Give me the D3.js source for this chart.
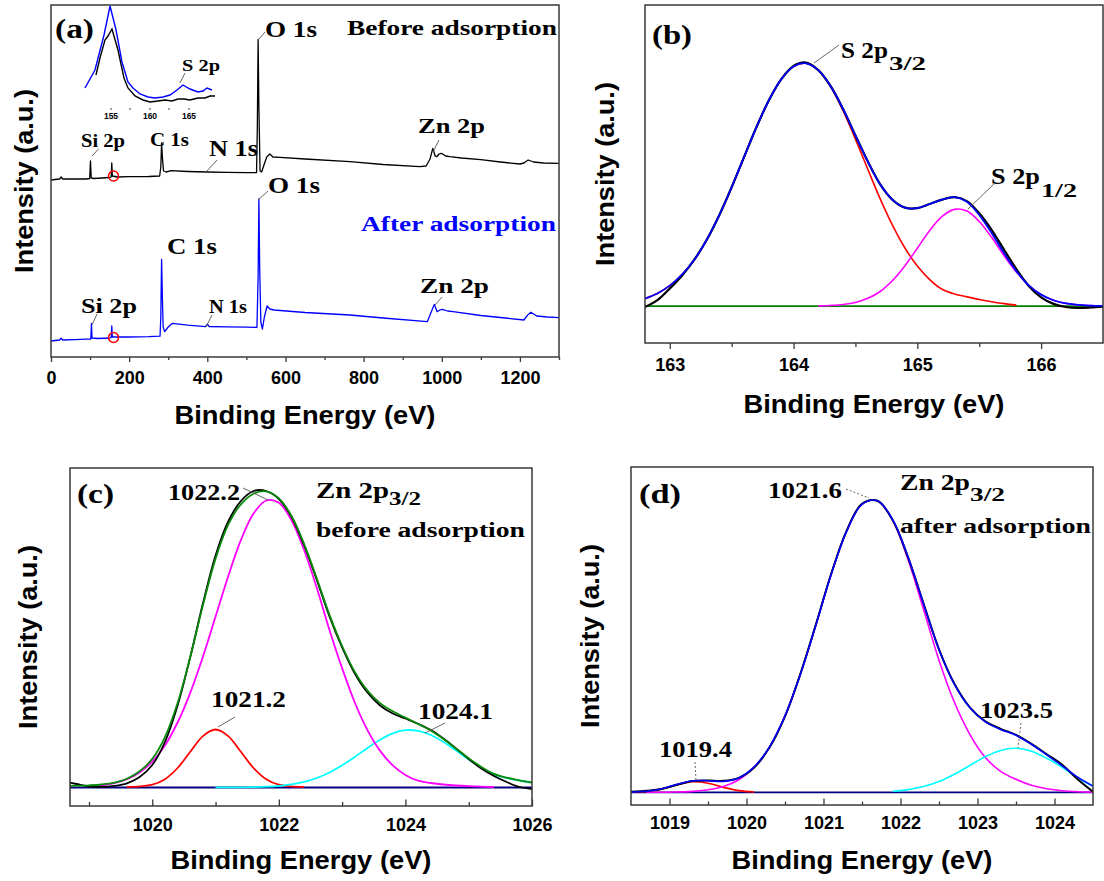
<!DOCTYPE html>
<html>
<head>
<meta charset="utf-8">
<script src="https://cdn.jsdelivr.net/npm/d3@7"></script>
<style>
  body { margin: 0; background: #fff; }
</style>
</head>
<body>
<div id="chart"></div>
<script>
// ---------- data ----------

// (a) survey spectra: [binding energy eV, intensity a.u.]
var surveyBefore = [[0,177],[10,177.5],[22,178],[26,180],[30,178],[60,178],[90,178],[99,178.5],[101,196],[103,179],[110,178.5],
  [130,179],[150,179.5],[154,180],[155.5,194],[157,181],[170,180],[200,180.3],[250,180.5],[278,181],[281,190],[283,214],
  [285,200],[288,186],[295,185],[307,186.3],[350,185.5],[400,185],[450,184.6],[500,184.3],[526,184.5],[528,230],[530,317.7],
  [532,250],[535,186],[539,185],[545,192],[552,200],[560,203],[568,200],[586,199.7],[650,198],[765,195.3],[850,192.5],
  [944,190.3],[960,191],[970,198],[977,208.7],[983,201],[987,200.3],[993,203],[999,203.7],[1010,201],[1021,200.3],
  [1050,199],[1100,197.3],[1150,195],[1200,193],[1210,194],[1221,197],[1235,195],[1260,194],[1300,193.7]];
var surveyAfter = [[0,16],[10,16.5],[22,17],[26,18.7],[30,17],[60,17.3],[90,17.8],[102,18],[103.5,33.7],[105,19],[120,18.5],
  [150,19],[154,19.5],[155.5,31],[157,20],[200,20],[250,20.3],[279,20.8],[281,40],[283,97.7],[285,60],[287,30],[291,25.3],
  [300,30],[311,33.7],[350,31.8],[395,30.3],[400,32.7],[405,30.5],[450,30.1],[500,29.8],[527,29.7],[530,80],[532,158],
  [534,90],[537,35],[541,28],[546,40],[553,51],[560,48],[571,47],[650,44.5],[765,42],[850,39],[963,35.3],[972,44],
  [981,52.7],[988,45.3],[995,47],[1001,47.7],[1015,46],[1029,45.3],[1100,41.5],[1150,39.5],[1210,37],[1220,42],
  [1228,44.7],[1243,41],[1270,40],[1300,39.3]];
var surveyTicks = [0, 200, 400, 600, 800, 1000, 1200];
var surveyMinor = [100, 300, 500, 700, 900, 1100, 1300];

// (a) inset: S 2p region
var insetBefore = [[153.14,35],[153.65,52],[154.29,70],[154.68,74],[155.19,81],[155.96,60],[156.73,32],[157.24,22],
  [158.14,14],[159.17,10],[160.06,8],[161.09,9],[161.99,10],[162.88,9],[163.65,11],[164.42,11],[165.19,10],[166.22,12],
  [167.12,12],[167.76,14],[168.4,14]];
var insetAfter = [[151.73,22],[153.01,40],[154.17,75],[154.94,104],[155.71,80],[156.47,48],[157.24,28],[157.88,22],
  [158.78,16],[159.81,13],[160.71,12],[161.73,13],[162.63,15],[163.53,20],[164.29,25],[165.19,21],[166.22,18],
  [166.86,19],[167.37,22],[168.01,20]];
var insetTicks = [155, 160, 165];
var insetMinor = [157.5, 162.5];

// (b) S 2p high resolution
var s2pEnergy = [162.8,162.9,163.0,163.1,163.2,163.3,163.4,163.5,163.6,163.7,163.8,163.9,164.0,164.1,164.2,164.3,164.4,
  164.5,164.6,164.7,164.8,164.9,165.0,165.1,165.2,165.3,165.4,165.5,165.6,165.7,165.8,165.9,166.0,166.1,166.2,166.3,166.4,166.5];
var s2pRaw = [-0.4,2.4,7.2,12.6,19.2,27.4,37.4,48.9,61.3,73.6,84.6,93.3,98.8,100.2,97.1,90.5,81.1,70.2,59.5,50.1,43.7,
  40.5,40.3,42.0,43.8,44.8,43.2,38.2,31.4,23.2,15.2,8.3,3.6,0.9,-0.4,-0.8,-0.6,-0.2];
var s2pFit = [3.1,5.2,8.4,13.0,19.2,27.4,37.4,48.9,61.3,73.6,84.6,93.3,98.6,99.9,97.1,90.5,81.1,70.2,59.5,50.1,43.7,
  40.5,40.3,42.0,43.8,44.8,42.9,37.5,30.1,21.8,14.4,8.5,4.7,2.4,1.1,0.45,0.2,0.1];
var s2p32 = [3.1,5.2,8.4,13.0,19.2,27.4,37.4,48.9,61.3,73.6,84.6,93.3,98.6,99.9,97.0,90.2,80.4,68.7,56.3,44.1,33.2,
  23.9,16.5,10.9,6.9,5.0,3.8,2.7,1.8,1.0,0.4,null,null,null,null,null,null,null];
var s2p12 = [null,null,null,null,null,null,null,null,null,null,null,null,null,null,0.09,0.26,0.65,1.5,3.2,6.0,10.5,
  16.6,23.8,31.1,36.9,39.8,39.1,34.8,28.3,20.8,14.0,8.5,4.7,2.4,1.1,0.45,0.2,0.1];
var s2pTicks = [163, 164, 165, 166];
var s2pMinor = [163.5, 164.5, 165.5];

// (c) Zn 2p3/2 before adsorption
var znBeforeEnergy = [1018.6,1018.8,1019.0,1019.2,1019.4,1019.6,1019.8,1020.0,1020.2,1020.4,1020.6,1020.8,1021.0,
  1021.2,1021.4,1021.6,1021.8,1022.0,1022.2,1022.4,1022.6,1022.8,1023.0,1023.2,1023.4,1023.6,1023.8,1024.0,1024.2,
  1024.4,1024.6,1024.8,1025.0,1025.2,1025.4,1025.6,1025.8,1026.0];
var znBeforeRaw = [6,3.5,1.0,0.6,1.6,4.2,10.5,22.5,45.5,82,130.5,184,232,266,286.5,296.5,296.5,288.5,270.5,242,207.5,
  171,140,114,95,82,74,69,63.8,57.5,49,39,28.5,19,11.5,5.5,0.5,-1.5];
var znBeforeFit = [1.4,1.8,2.2,3.0,4.8,8.8,16.2,28.6,50.4,84.5,130.4,182.1,228.9,262.8,283.2,293.8,296.1,289.1,271.5,
  243.4,209.0,172.6,141.5,115.6,96.9,84.4,76.2,69.9,63.5,57.0,48.5,38.9,29.3,20.6,13.7,9.8,7.2,5.0];
var znBefore1021 = [null,null,null,null,null,0.5,1.2,2.8,8.3,19.5,35.7,51.4,58,51.4,35.7,19.5,8.3,2.8,1.2,0.5,
  null,null,null,null,null,null,null,null,null,null,null,null,null,null,null,null,null,null];
var znBefore1022 = [null,null,1.0,2.1,4.3,8.3,15.0,25.8,42.1,65.0,94.7,130.7,170.9,211.3,247.3,273.9,287.0,284.7,
  267.2,237.3,199.5,157.6,119.3,85.0,57.3,36.6,22.1,12.6,6.8,4.5,3.0,2.0,1.3,0.8,0.5,null,null,null];
var znBefore1024 = [null,null,null,null,null,null,null,null,null,null,null,null,0.1,0.1,0.2,0.4,0.8,1.6,3.1,5.6,9.5,
  15.0,22.2,30.6,39.6,47.8,54.1,57.3,56.7,52.5,45.5,36.9,28.0,19.8,13.2,9.5,7.0,5.0];
var znBeforeTicks = [1020, 1022, 1024, 1026];
var znBeforeMinor = [1019, 1021, 1023, 1025];

// (d) Zn 2p3/2 after adsorption
var znAfterEnergy = [1018.5,1018.7,1018.9,1019.1,1019.3,1019.5,1019.7,1019.9,1020.1,1020.3,1020.5,1020.7,1020.9,
  1021.1,1021.3,1021.5,1021.7,1021.9,1022.1,1022.3,1022.5,1022.7,1022.9,1023.1,1023.3,1023.5,1023.7,1023.9,1024.1,
  1024.3,1024.5];
var znAfterRaw = [0.5,1.5,3.4,7.6,11.2,11.8,11.5,14.5,24.8,45,76,118.5,167.5,218.5,261.5,288.5,291.5,272,234.5,188.5,
  143,108.5,85,71,63.5,57.5,48.5,38,27.5,13,0.5];
var znAfterFit = [0.3,1.0,3.5,8.0,11.5,11.6,10.9,14.3,25.4,45.5,76.4,118,167,218,261,288,291.5,272.5,234.9,188.4,
  142.8,108.0,84.8,70.6,62.9,57.0,48.0,37.5,26.5,15.1,6.2];
var znAfter1019 = [0.17,0.95,3.4,7.6,10.5,9.1,4.9,1.7,0.35,null,null,null,null,null,null,null,null,null,null,null,
  null,null,null,null,null,null,null,null,null,null,null];
var znAfter1021 = [null,0.03,0.11,0.35,0.97,2.5,5.8,12.6,25.0,45.5,76.4,118,167,218,261,288,291.5,271.4,232.2,182.7,
  132.1,90,58,35,21,13,7,3.5,1.5,0.6,0.2];
var znAfter1023 = [null,null,null,null,null,null,null,null,null,null,null,null,null,null,null,null,null,1.1,2.7,5.7,
  10.7,18.0,26.8,35.6,41.9,44.0,41.0,34.0,25.0,14.5,6.0];
var znAfterTicks = [1019, 1020, 1021, 1022, 1023, 1024];
var znAfterMinor = [1019.5, 1020.5, 1021.5, 1022.5, 1023.5];

// ---------- drawing ----------
var SERIF = '"Liberation Serif","Times New Roman",serif';
var SANS = '"Liberation Sans",Arial,sans-serif';
var FRAME = '#3a3a3a';

var svg = d3.select('#chart').append('svg')
  .attr('width', 1104).attr('height', 881)
  .style('background', '#fff');

// bold text squeezed / stretched to the width it has in the figure
function label(g, str, x, y, w, fs, opt) {
  opt = opt || {};
  var t = g.append('text')
    .attr('font-family', opt.family || SERIF)
    .attr('font-weight', 'bold')
    .attr('font-size', fs)
    .attr('fill', opt.fill || '#000')
    .attr('text-anchor', opt.anchor || 'start')
    .text(str);
  var bw = t.node().getBBox().width;
  var s = bw > 0 ? w / bw : 1;
  t.attr('transform', 'translate(' + x + ',' + y + ')' + (opt.rotate ? ' rotate(' + opt.rotate + ')' : '') +
    ' scale(' + s + ',1)');
  return t;
}

function leader(g, x1, y1, x2, y2, dashed) {
  g.append('line').attr('x1', x1).attr('y1', y1).attr('x2', x2).attr('y2', y2)
    .attr('stroke', '#555').attr('stroke-width', 0.9)
    .attr('stroke-dasharray', dashed ? '2,2' : null);
}

function panel(cfg) {
  var x = d3.scaleLinear().domain(cfg.xDomain).range([cfg.left, cfg.right]);
  var y = d3.scaleLinear().domain(cfg.yDomain).range([cfg.bottom, cfg.top]);
  var g = svg.append('g');
  var clipId = 'clip-' + cfg.id;
  g.append('clipPath').attr('id', clipId).append('rect')
    .attr('x', cfg.left).attr('y', cfg.top)
    .attr('width', cfg.right - cfg.left).attr('height', cfg.bottom - cfg.top);
  var plot = g.append('g').attr('clip-path', 'url(#' + clipId + ')');

  var sgn = cfg.inward ? -1 : 1;
  var major = d3.axisBottom(x).tickValues(cfg.major).tickFormat(d3.format('d'))
    .tickSize(sgn * cfg.majorLen).tickPadding(cfg.pad);
  var minor = d3.axisBottom(x).tickValues(cfg.minor).tickFormat('')
    .tickSize(sgn * cfg.minorLen);
  [minor, major].forEach(function (ax) {
    var a = g.append('g').attr('transform', 'translate(0,' + cfg.bottom + ')').call(ax);
    a.select('.domain').remove();
    a.selectAll('line').attr('stroke', FRAME).attr('stroke-width', 1.3);
    a.selectAll('text').attr('font-family', SANS).attr('font-weight', 'bold')
      .attr('font-size', 18).attr('fill', '#000');
  });

  g.append('rect')
    .attr('x', cfg.left).attr('y', cfg.top)
    .attr('width', cfg.right - cfg.left).attr('height', cfg.bottom - cfg.top)
    .attr('fill', 'none').attr('stroke', FRAME).attr('stroke-width', 1.5);

  var cx = (cfg.left + cfg.right) / 2, cy = (cfg.top + cfg.bottom) / 2;
  label(g, 'Binding Energy (eV)', cx, cfg.xTitleY, 261, 26, { family: SANS, anchor: 'middle' });
  label(g, 'Intensity (a.u.)', cfg.yTitleX, cy, 184, 26, { family: SANS, anchor: 'middle', rotate: -90 });

  return { x: x, y: y, g: g, plot: plot };
}

function curve(p, xs, ys, color, width, smooth) {
  var pts = xs.map(function (d, i) { return [d, ys[i]]; });
  var line = d3.line()
    .defined(function (d) { return d[1] != null; })
    .x(function (d) { return p.x(d[0]); })
    .y(function (d) { return p.y(d[1]); })
    .curve(smooth ? d3.curveCatmullRom.alpha(0.5) : d3.curveLinear);
  p.plot.append('path').datum(pts).attr('d', line)
    .attr('fill', 'none').attr('stroke', color).attr('stroke-width', width)
    .attr('stroke-linejoin', 'round');
}

function hline(p, color) {
  var d = p.x.domain();
  p.plot.append('line').attr('x1', p.x(d[0])).attr('x2', p.x(d[1]))
    .attr('y1', p.y(0)).attr('y2', p.y(0))
    .attr('stroke', color).attr('stroke-width', 1.8);
}

// ---- (a) survey ----
var pa = panel({ id: 'a', left: 51, right: 559, top: 5, bottom: 357,
  xDomain: [0, 1300], yDomain: [0, 352], major: surveyTicks, minor: surveyMinor,
  inward: false, majorLen: 5, minorLen: 3, pad: 9, xTitleY: 424, yTitleX: 33 });
curve(pa, surveyBefore.map(function (d) { return d[0]; }), surveyBefore.map(function (d) { return d[1]; }), '#000', 1.3, false);
curve(pa, surveyAfter.map(function (d) { return d[0]; }), surveyAfter.map(function (d) { return d[1]; }), '#0000ff', 1.3, false);

[[160, 181], [160, 19.5]].forEach(function (c) {
  pa.plot.append('circle').attr('cx', pa.x(c[0])).attr('cy', pa.y(c[1])).attr('r', 5)
    .attr('fill', 'none').attr('stroke', '#ff0000').attr('stroke-width', 1.5);
});

// inset
var ix = d3.scaleLinear().domain([155, 165]).range([110.5, 188.5]);
var iy = d3.scaleLinear().domain([0, 105]).range([110, 5]);
var inset = pa.g.append('g');
[[insetBefore, '#000'], [insetAfter, '#0000ff']].forEach(function (s) {
  inset.append('path').datum(s[0])
    .attr('d', d3.line().x(function (d) { return ix(d[0]); }).y(function (d) { return iy(d[1]); }))
    .attr('fill', 'none').attr('stroke', s[1]).attr('stroke-width', 1.4);
});
var iax = inset.append('g').attr('transform', 'translate(0,108)')
  .call(d3.axisBottom(ix).tickValues(insetTicks).tickFormat(d3.format('d')).tickSize(2).tickPadding(3));
iax.select('.domain').remove();
iax.selectAll('line').attr('stroke', '#444');
iax.selectAll('text').attr('font-family', SANS).attr('font-weight', 'bold').attr('font-size', 8.5).attr('fill', '#000');
inset.selectAll('.iminor').data(insetMinor).enter().append('line')
  .attr('x1', function (d) { return ix(d); }).attr('x2', function (d) { return ix(d); })
  .attr('y1', 108).attr('y2', 110).attr('stroke', '#444');

var la = pa.g;
label(la, '(a)', 55, 38, 39, 28);
label(la, 'O 1s', 265, 37, 52, 24);
label(la, 'Before adsorption', 347, 35, 210, 22);
label(la, 'Zn 2p', 418, 133, 67, 22);
label(la, 'O 1s', 268, 193, 52, 24);
label(la, 'Si 2p', 81, 147, 44, 19);
label(la, 'C 1s', 150, 146, 39, 19);
label(la, 'N 1s', 209, 156, 49, 24);
label(la, 'S 2p', 182, 71, 38, 17);
label(la, 'After adsorption', 361, 231, 195, 22, { fill: '#0000ff' });
label(la, 'C 1s', 167, 254, 50, 24);
label(la, 'Si 2p', 81, 313, 56, 22);
label(la, 'N 1s', 209, 313, 38, 18);
label(la, 'Zn 2p', 420, 293, 69, 22);
leader(la, 259, 39, 265, 32);
leader(la, 258, 200, 268, 191);
leader(la, 433, 152, 439, 140);
leader(la, 92, 156, 98.5, 149);
leader(la, 207, 171, 217, 160);
leader(la, 180, 83, 185, 73);
leader(la, 92, 325, 97, 314);
leader(la, 206, 327, 212, 315);
leader(la, 435, 305, 442, 297);

// ---- (b) S 2p ----
var pb = panel({ id: 'b', left: 645, right: 1103, top: 5, bottom: 343,
  xDomain: [162.8, 166.5], yDomain: [-15.2, 123.9], major: s2pTicks, minor: s2pMinor,
  inward: false, majorLen: 6, minorLen: 4, pad: 9, xTitleY: 413, yTitleX: 614 });
hline(pb, '#008000');
curve(pb, s2pEnergy, s2p32, '#ff0000', 1.6, true);
curve(pb, s2pEnergy, s2p12, '#ff00ff', 1.6, true);
curve(pb, s2pEnergy, s2pRaw, '#000', 2.2, true);
curve(pb, s2pEnergy, s2pFit, '#0000ff', 1.8, true);
label(pb.g, '(b)', 652, 44, 40, 28);
label(pb.g, 'S 2p', 841, 58, 47, 24);
label(pb.g, '3/2', 889, 70, 37, 18);
label(pb.g, 'S 2p', 991, 184, 49, 24);
label(pb.g, '1/2', 1041, 197, 36, 18);
leader(pb.g, 814, 63, 839, 45);
leader(pb.g, 968, 209, 995, 183);

// ---- (c) Zn 2p before ----
var pc = panel({ id: 'c', left: 70, right: 532, top: 468, bottom: 806,
  xDomain: [1018.7, 1026], yDomain: [-18.5, 319.5], major: znBeforeTicks, minor: znBeforeMinor,
  inward: true, majorLen: 6.5, minorLen: 4, pad: 12, xTitleY: 869, yTitleX: 37 });
hline(pc, '#000080');
curve(pc, znBeforeEnergy, znBefore1021, '#ff0000', 1.8, true);
curve(pc, znBeforeEnergy, znBefore1024, '#00ffff', 1.8, true);
curve(pc, znBeforeEnergy, znBefore1022, '#ff00ff', 1.8, true);
curve(pc, znBeforeEnergy, znBeforeRaw, '#000', 1.8, true);
curve(pc, znBeforeEnergy, znBeforeFit, '#0a8a0a', 1.8, true);
label(pc.g, '(c)', 77, 503, 37, 28);
label(pc.g, '1022.2', 168, 500, 72, 24);
label(pc.g, 'Zn 2p', 316, 498, 73, 24);
label(pc.g, '3/2', 389, 505, 32, 18);
label(pc.g, 'before adsorption', 316, 537, 209, 22);
label(pc.g, '1021.2', 211, 707, 75, 24);
label(pc.g, '1024.1', 418, 719, 75, 24);
leader(pc.g, 243, 488, 268, 500);
leader(pc.g, 218, 727, 235, 717);
leader(pc.g, 425, 733, 445, 723);

// ---- (d) Zn 2p after ----
var pd = panel({ id: 'd', left: 631, right: 1093, top: 467, bottom: 805,
  xDomain: [1018.5, 1024.5], yDomain: [-12.7, 325.3], major: znAfterTicks, minor: znAfterMinor,
  inward: true, majorLen: 6.5, minorLen: 3.5, pad: 11, xTitleY: 869, yTitleX: 599 });
hline(pd, '#000080');
curve(pd, znAfterEnergy, znAfter1019, '#ff0000', 1.6, true);
curve(pd, znAfterEnergy, znAfter1021, '#ff00ff', 1.6, true);
curve(pd, znAfterEnergy, znAfter1023, '#00ffff', 1.6, true);
curve(pd, znAfterEnergy, znAfterRaw, '#000', 2.0, true);
curve(pd, znAfterEnergy, znAfterFit, '#0000ff', 1.6, true);
label(pd.g, '(d)', 639, 503, 42, 28);
label(pd.g, '1021.6', 768, 498, 74, 24);
label(pd.g, 'Zn 2p', 900, 490, 70, 24);
label(pd.g, '3/2', 970, 501, 35, 18);
label(pd.g, 'after adsorption', 900, 533, 191, 22);
label(pd.g, '1023.5', 980, 718, 73, 24);
label(pd.g, '1019.4', 659, 757, 73, 24);
leader(pd.g, 846, 489, 869, 498, true);
leader(pd.g, 1021, 723, 1018, 748, true);
leader(pd.g, 695, 762, 696, 780, true);
</script>
</body>
</html>
